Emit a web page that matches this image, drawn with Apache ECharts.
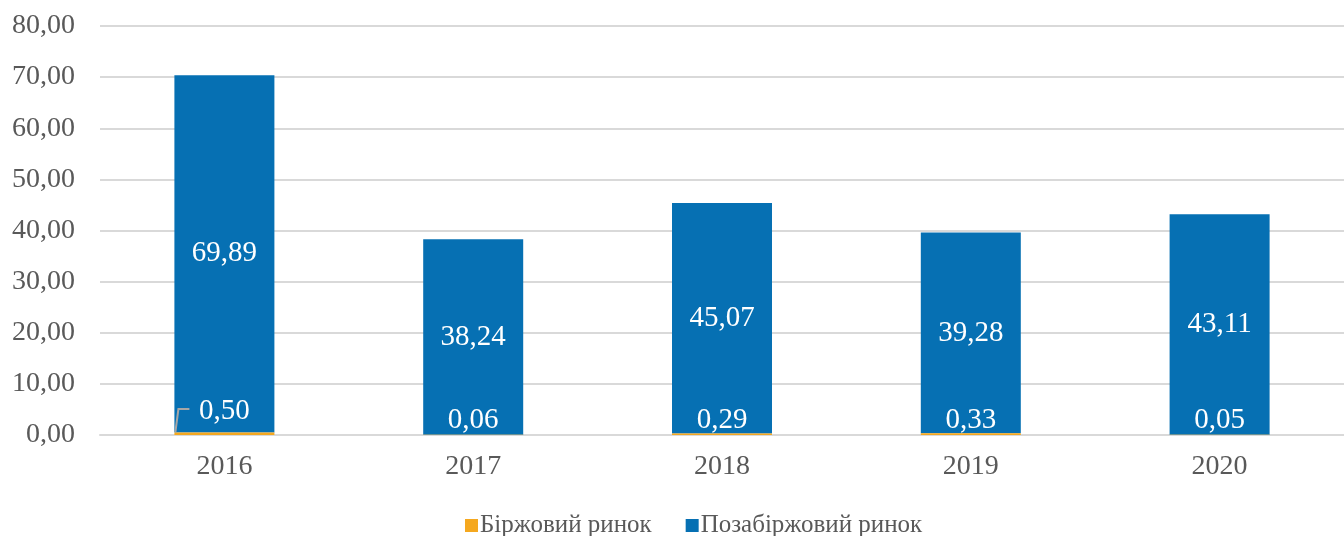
<!DOCTYPE html>
<html>
<head>
<meta charset="utf-8">
<script src="https://cdn.jsdelivr.net/npm/echarts@6/dist/echarts.min.js"></script>
<style>html,body{margin:0;padding:0;background:#fff}#c{width:1344px;height:536px}</style>
</head>
<body>
<div id="c"></div>
<script>
const categories = ['2016', '2017', '2018', '2019', '2020'];
const exchangeName = 'Біржовий ринок';
const otcName = 'Позабіржовий ринок';
const exchangeValues = [0.50, 0.06, 0.29, 0.33, 0.05];
const otcValues = [69.89, 38.24, 45.07, 39.28, 43.11];
const leaderIndex = [0];

const fmt = v => Number(v).toFixed(2).replace('.', ',');
const serif = '"Liberation Serif", "DejaVu Serif", serif';
const BAR_W = 100;

const chart = echarts.init(document.getElementById('c'), null, {renderer: 'canvas'});
chart.setOption({
  animation: false,
  backgroundColor: '#ffffff',
  grid: {left: 100, top: 26, width: 1255, bottom: 101, containLabel: false},
  legend: {
    data: [exchangeName, otcName],
    top: 508,
    left: 460,
    itemWidth: 13, itemHeight: 13, itemGap: 34,
    icon: 'rect',
    textStyle: {fontFamily: serif, fontSize: 25, color: '#595959', padding: [0, 0, 0, -3]}
  },
  xAxis: {
    type: 'category',
    data: categories,
    axisTick: {show: false},
    axisLine: {lineStyle: {color: '#d9d9d9', width: 2}},
    axisLabel: {fontFamily: serif, fontSize: 28, color: '#595959', margin: 18}
  },
  yAxis: {
    type: 'value',
    min: 0, max: 80, interval: 10,
    axisLine: {show: false},
    axisTick: {show: false},
    splitLine: {lineStyle: {color: '#d9d9d9', width: 2}},
    axisLabel: {fontFamily: serif, fontSize: 28, color: '#595959', margin: 25, formatter: fmt}
  },
  series: [
    {
      name: exchangeName,
      type: 'bar',
      stack: 'total',
      barWidth: BAR_W,
      z: 3,
      itemStyle: {color: '#f5a81f'},
      data: exchangeValues.map((v, i) => leaderIndex.includes(i) ? {value: v, label: {offset: [0, -9]}} : v),
      label: {
        show: true,
        position: 'insideBottom',
        distance: 0,
        fontFamily: serif, fontSize: 29, color: '#ffffff',
        formatter: p => fmt(p.value)
      }
    },
    {
      name: otcName,
      type: 'bar',
      stack: 'total',
      barWidth: BAR_W,
      itemStyle: {color: '#0670b3'},
      data: otcValues,
      label: {
        show: true,
        position: 'inside',
        fontFamily: serif, fontSize: 29, color: '#ffffff',
        formatter: p => fmt(p.value)
      }
    },
    {
      type: 'custom',
      name: 'leader',
      silent: true,
      z: 5,
      data: leaderIndex.map(i => [i, exchangeValues[i]]),
      renderItem: (params, api) => {
        const base = api.coord([api.value(0), 0]);
        const x0 = base[0] - BAR_W / 2 + 1;
        const yb = base[1] - 3;
        const ym = base[1] - 26;
        return {
          type: 'polyline',
          shape: {points: [[x0, yb], [x0 + 3, ym], [x0 + 14, ym]]},
          style: {stroke: '#a6a6a6', lineWidth: 2, fill: null}
        };
      }
    }
  ]
});
</script>
</body>
</html>
